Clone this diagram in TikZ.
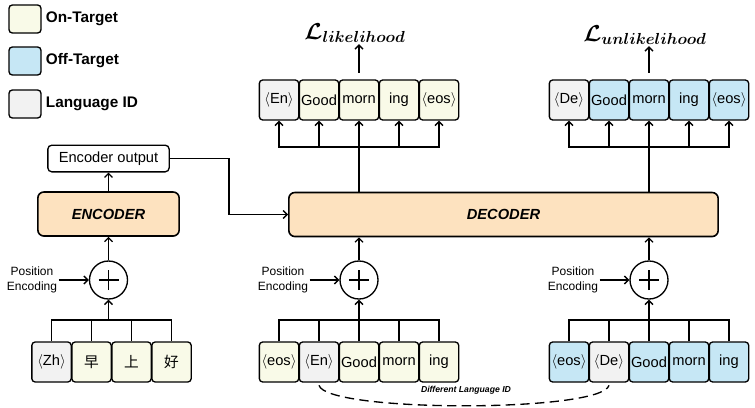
\documentclass[tikz,border=0pt]{standalone}
\usepackage{amsmath,amssymb}
\usepackage{bm}
\usepackage{fontspec}
\setmainfont{Liberation Sans}
\newfontfamily\cjk{Noto Sans CJK SC}
\usetikzlibrary{arrows.meta, positioning, calc}
\definecolor{ontarget}{HTML}{F9FAE8}
\definecolor{offtarget}{HTML}{C6E7F5}
\definecolor{langid}{HTML}{F2F2F2}
\definecolor{coderfill}{HTML}{FDE2BF}
\tikzset{
    tokbox/.style={draw=black, line width=1pt, rounded corners=2.5pt, minimum width=29.5pt, minimum height=30pt, inner sep=0pt, font=\fontsize{11}{13}\selectfont},
    ontok/.style={tokbox, fill=ontarget},
    offtok/.style={tokbox, fill=offtarget},
    langtok/.style={tokbox, fill=langid},
    legbox/.style={draw=black, line width=1pt, rounded corners=2.5pt, minimum width=24pt, minimum height=21pt, inner sep=0pt},
    legtext/.style={font=\fontsize{11.5}{13}\selectfont\bfseries, inner sep=0pt},
    coderbox/.style={draw=black, line width=1.2pt, rounded corners=4.5pt, fill=coderfill, minimum height=33pt, inner sep=0pt, font=\fontsize{11}{13}\selectfont\bfseries\itshape},
    outbox/.style={draw=black, line width=1pt, rounded corners=3pt, minimum width=91pt, minimum height=20pt, inner sep=0pt, font=\fontsize{11}{13}\selectfont},
    plusnode/.style={circle, draw=black, line width=1pt, minimum size=28.5pt, inner sep=0pt,
        path picture={\draw[line width=1pt] ([xshift=-7.5pt]path picture bounding box.center) -- ([xshift=7.5pt]path picture bounding box.center)
            ([yshift=-7.5pt]path picture bounding box.center) -- ([yshift=7.5pt]path picture bounding box.center);}},
    posenc/.style={align=center, font=\fontsize{9}{11}\selectfont, inner sep=1pt},
    losslabel/.style={font=\fontsize{16.5}{19}\selectfont, inner sep=1pt},
    arr/.style={-{Straight Barb[length=3pt,width=6pt]}, line width=1pt},
    conn/.style={line width=1pt},
    dashline/.style={line width=1pt, dash pattern=on 7pt off 4pt}
}

\begin{document}
\begin{tikzpicture}[x=0.75pt, y=-0.75pt]
    \useasboundingbox (0,0) rectangle (755,407);

    % Legend
    \node[legbox, fill=ontarget] (legon) at (25,19) {};
    \node[legtext, right=3pt of legon] (legontext) {On-Target};
    \node[legbox, fill=offtarget] (legoff) at (25,61) {};
    \node[legtext, right=3pt of legoff] (legofftext) {Off-Target};
    \node[legbox, fill=langid] (leglang) at (25,104) {};
    \node[legtext, right=3pt of leglang] (leglangtext) {Language ID};

    % Encoder side
    \node[langtok] (zh) at (51.5,362) {$\langle$Zh$\rangle$};
    \node[ontok] (z1) at (91.5,362) {\cjk 早};
    \node[ontok] (z2) at (131.5,362) {\cjk 上};
    \node[ontok] (z3) at (171.5,362) {\cjk 好};
    \coordinate (encbar) at (108.5,320);
    \node[plusnode] (encplus) at (108.5,280) {};
    \node[posenc] (pe1) at (32,280) {Position\\Encoding};
    \node[coderbox, minimum width=106pt] (enc) at (108.5,214) {ENCODER};
    \node[outbox] (encout) at (108.5,158.5) {Encoder output};

    \draw[conn] (zh.north) |- (encbar);
    \draw[conn] (z1.north) |- (encbar);
    \draw[conn] (z2.north) |- (encbar);
    \draw[conn] (z3.north) |- (encbar);
    \draw[arr] (encbar) -- (encplus);
    \draw[arr] (pe1) -- (encplus);
    \draw[arr] (encplus) -- (enc);
    \draw[arr] (enc) -- (encout);

    % Decoder
    \node[coderbox, minimum width=322pt] (dec) at (503.5,214.5) {DECODER};
    \coordinate (elbow) at (229,158.5);
    \draw[arr] (encout) -- (elbow) |- (dec);

    % Decoder inputs (on-target)
    \node[ontok] (d1) at (279,362) {$\langle$eos$\rangle$};
    \node[langtok] (d2) at (319,362) {$\langle$En$\rangle$};
    \node[ontok] (d3) at (359,362) {Good};
    \node[ontok] (d4) at (399,362) {morn};
    \node[ontok] (d5) at (439,362) {ing};
    \coordinate (decbarL) at (359,320);
    \node[plusnode] (decplusL) at (359,280) {};
    \node[posenc] (pe2) at (283,280) {Position\\Encoding};

    \draw[conn] (d1.north) |- (decbarL);
    \draw[conn] (d2.north) |- (decbarL);
    \draw[conn] (d4.north) |- (decbarL);
    \draw[conn] (d5.north) |- (decbarL);
    \draw[arr] (d3.north) -- (decplusL);
    \draw[arr] (pe2) -- (decplusL);
    \draw[arr] (decplusL) -- (dec.south -| decplusL);

    % Decoder inputs (off-target)
    \node[offtok] (r1) at (569,362) {$\langle$eos$\rangle$};
    \node[langtok] (r2) at (609,362) {$\langle$De$\rangle$};
    \node[offtok] (r3) at (649,362) {Good};
    \node[offtok] (r4) at (689,362) {morn};
    \node[offtok] (r5) at (729,362) {ing};
    \coordinate (decbarR) at (649,320);
    \node[plusnode] (decplusR) at (649,280) {};
    \node[posenc] (pe3) at (573,280) {Position\\Encoding};

    \draw[conn] (r1.north) |- (decbarR);
    \draw[conn] (r2.north) |- (decbarR);
    \draw[conn] (r4.north) |- (decbarR);
    \draw[conn] (r5.north) |- (decbarR);
    \draw[arr] (r3.north) -- (decplusR);
    \draw[arr] (pe3) -- (decplusR);
    \draw[arr] (decplusR) -- (dec.south -| decplusR);

    % Different language ID
    \draw[dashline] ([yshift=-2pt]d2.south) to[out=-75, in=-105, looseness=0.25] ([yshift=-2pt]r2.south);
    \node[font=\fontsize{6.5}{8}\selectfont\bfseries\itshape, inner sep=1pt] (difflang) at (466,390) {Different Language ID};

    % Decoder outputs (likelihood)
    \node[langtok] (o1) at (279,100) {$\langle$En$\rangle$};
    \node[ontok] (o2) at (319,100) {Good};
    \node[ontok] (o3) at (359,100) {morn};
    \node[ontok] (o4) at (399,100) {ing};
    \node[ontok] (o5) at (439,100) {$\langle$eos$\rangle$};
    \coordinate (outbarL) at (359,147);
    \draw[conn] (dec.north -| outbarL) -- (outbarL);
    \draw[arr] (outbarL) -| (o1);
    \draw[arr] (outbarL) -| (o2);
    \draw[arr] (outbarL) -- (o3);
    \draw[arr] (outbarL) -| (o4);
    \draw[arr] (outbarL) -| (o5);
    \node[losslabel] (lossL) at (355,33) {$\bm{\mathcal{L}}_{\bm{likelihood}}$};
    \draw[arr, shorten <=5pt] (o3.north) -- (o3.north |- lossL.south);

    % Decoder outputs (unlikelihood)
    \node[langtok] (u1) at (569,100) {$\langle$De$\rangle$};
    \node[offtok] (u2) at (609,100) {Good};
    \node[offtok] (u3) at (649,100) {morn};
    \node[offtok] (u4) at (689,100) {ing};
    \node[offtok] (u5) at (729,100) {$\langle$eos$\rangle$};
    \coordinate (outbarR) at (649,147);
    \draw[conn] (dec.north -| outbarR) -- (outbarR);
    \draw[arr] (outbarR) -| (u1);
    \draw[arr] (outbarR) -| (u2);
    \draw[arr] (outbarR) -- (u3);
    \draw[arr] (outbarR) -| (u4);
    \draw[arr] (outbarR) -| (u5);
    \node[losslabel] (lossU) at (645,35) {$\bm{\mathcal{L}}_{\bm{unlikelihood}}$};
    \draw[arr, shorten <=5pt] (u3.north) -- (u3.north |- lossU.south);
\end{tikzpicture}
\end{document}
